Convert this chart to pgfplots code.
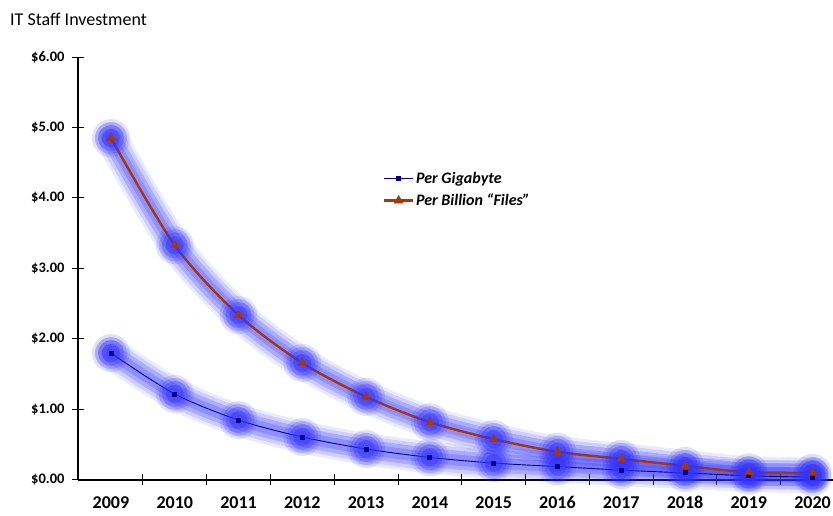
\documentclass[border=0pt]{standalone}
\usepackage{pgfplots}
\pgfplotsset{compat=1.18}
\usepackage{pgfplotstable}
\usepackage{fontspec}
\setmainfont{Carlito}
\definecolor{navyline}{RGB}{0,0,128}
\definecolor{rustline}{RGB}{165,55,10}
\definecolor{glow}{RGB}{50,50,255}
\pgfplotstableread{
x gb files
0 1.80 4.85
1 1.22 3.33
2 0.85 2.34
3 0.61 1.66
4 0.44 1.18
5 0.32 0.82
6 0.24 0.58
7 0.19 0.40
8 0.14 0.30
9 0.10 0.20
10 0.06 0.11
11 0.04 0.10
}\datatable
\pgfplotsset{
  glowline/.style 2 args={forget plot, smooth, no markers, draw=glow, draw opacity=#2, line cap=round, line join=round, line width=#1},
  glowmark/.style 2 args={forget plot, only marks, color=glow, mark=*, mark size=#1, mark options={solid, draw=glow, draw opacity=0, line width=0pt, fill=glow, fill opacity=#2}},
}
\begin{document}
\begin{tikzpicture}
\path[use as bounding box] (-78pt,-36pt) rectangle (755pt,480pt);
\begin{axis}[
  at={(0,0)}, anchor=south west,
  scale only axis, width=755pt, height=423pt,
  xmin=-0.517, xmax=11.32, ymin=0, ymax=6,
  axis lines=left,
  axis line style={-, line width=1.1pt, black},
  clip=false,
  xtick={0,...,11},
  xticklabels={2009,2010,2011,2012,2013,2014,2015,2016,2017,2018,2019,2020},
  minor x tick num=1,
  every major x tick/.append style={draw=none},
  every minor x tick/.append style={line width=1pt, black},
  minor tick length=11pt,
  ytick={0,1,...,6},
  every major y tick/.append style={line width=1pt, black},
  major tick length=12pt,
  tick align=center,
  /pgf/number format/assume math mode=true,
  yticklabel={\$\pgfmathprintnumber[fixed,fixed zerofill,precision=2]{\tick}},
  yticklabel style={font=\fontsize{14.5}{16}\selectfont\bfseries, xshift=-4pt},
  xticklabel style={font=\fontsize{18}{20}\selectfont\bfseries, yshift=-7pt},
  legend style={at={(0.404,0.733)}, anchor=north west, draw=none, fill=none,
    font=\fontsize{16}{18}\selectfont\bfseries\itshape, row sep=5pt, inner sep=0pt},
  legend cell align=left,
  legend image code/.code={\draw[mark repeat=2,mark phase=2] plot coordinates {(0cm,0cm)(0.5cm,0cm)(1cm,0cm)};},
]
% glow for files series
\addplot[glowline={32pt}{0.10}] table[x=x,y=files]{\datatable};
\addplot[glowline={26pt}{0.15}] table[x=x,y=files]{\datatable};
\addplot[glowline={19pt}{0.22}] table[x=x,y=files]{\datatable};
\addplot[glowline={11pt}{0.25}] table[x=x,y=files]{\datatable};
% glow for gb series
\addplot[glowline={32pt}{0.10}] table[x=x,y=gb]{\datatable};
\addplot[glowline={26pt}{0.15}] table[x=x,y=gb]{\datatable};
\addplot[glowline={19pt}{0.22}] table[x=x,y=gb]{\datatable};
\addplot[glowline={11pt}{0.25}] table[x=x,y=gb]{\datatable};
% glow blobs at markers
\addplot[glowmark={19pt}{0.15}] table[x=x,y=files]{\datatable};
\addplot[glowmark={16pt}{0.22}] table[x=x,y=files]{\datatable};
\addplot[glowmark={13pt}{0.32}] table[x=x,y=files]{\datatable};
\addplot[glowmark={9pt}{0.45}] table[x=x,y=files]{\datatable};
\addplot[glowmark={19pt}{0.15}] table[x=x,y=gb]{\datatable};
\addplot[glowmark={16pt}{0.22}] table[x=x,y=gb]{\datatable};
\addplot[glowmark={13pt}{0.32}] table[x=x,y=gb]{\datatable};
\addplot[glowmark={9pt}{0.45}] table[x=x,y=gb]{\datatable};
% main series
\addplot[smooth, navyline, line width=0.9pt, mark=square*, mark size=2pt, mark options={fill=navyline, draw=navyline}] table[x=x,y=gb]{\datatable};
\addlegendentry{Per Gigabyte}
\addplot[smooth, rustline, line width=2.4pt, mark=triangle*, mark size=5pt, mark options={fill=rustline, draw=rustline, line width=0.5pt}] table[x=x,y=files]{\datatable};
\addlegendentry{Per Billion ``Files''}
\end{axis}
\node[anchor=west, font=\fontsize{18}{20}\selectfont, inner sep=0pt] at (-68pt,461pt) {IT Staff Investment};
\end{tikzpicture}
\end{document}
